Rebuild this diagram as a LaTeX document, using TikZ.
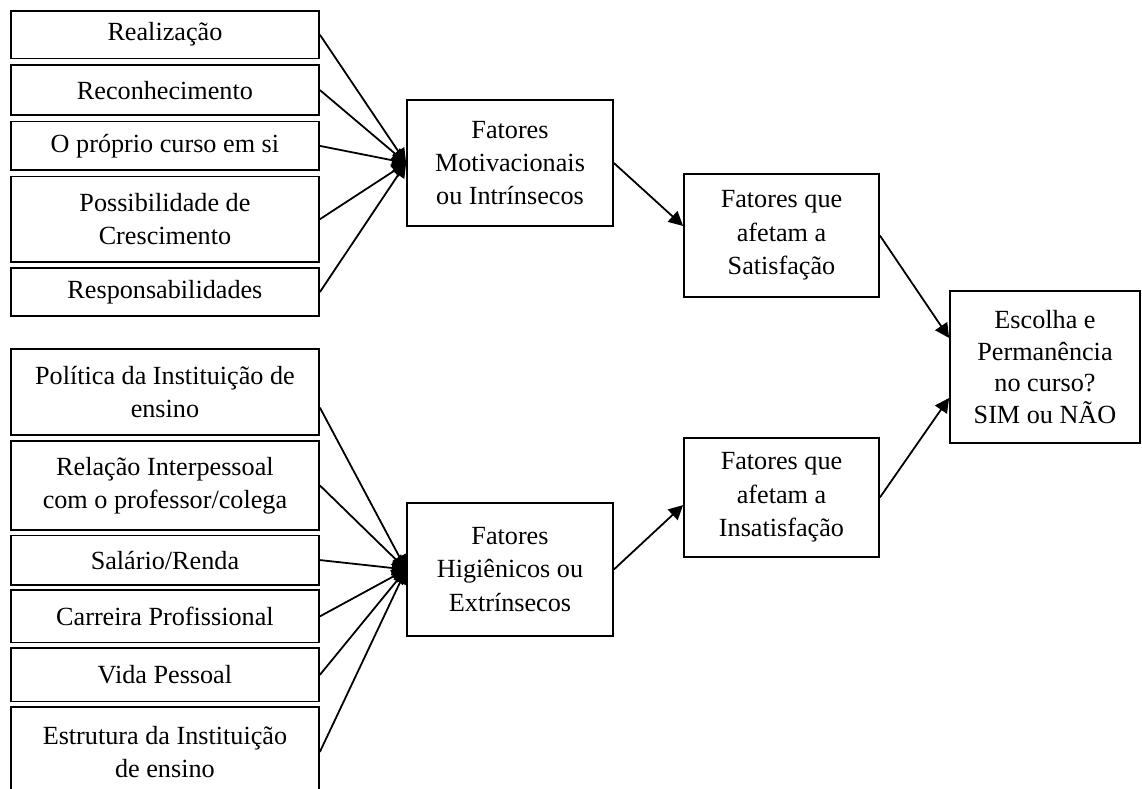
\documentclass[tikz,border=0pt]{standalone}
\usepackage{fontspec}
\setmainfont{Liberation Serif}
\usetikzlibrary{positioning, arrows.meta}

\begin{document}
\begin{tikzpicture}[x=0.42pt, y=-0.42pt, line width=0.75pt,
     node distance = 1.9pt and 1.9pt,
 every node/.style = {font=\fontsize{11}{14}\selectfont},
       item/.style = {rectangle, draw, minimum width=129.4pt,
                     minimum height=#1, align=center, inner sep=1pt},
     item/.default = 20.4pt,
   box/.style 2 args = {rectangle, draw, minimum width=#1,
                     minimum height=#2, align=center, inner sep=1pt},
                >= {Triangle[length=6pt, width=6pt]}
                        ]
\useasboundingbox (0,0) rectangle (1142,789);
% fatores motivacionais
\node (real) [item=20pt, anchor=north west] at (10,10) {Realização};
\node (recon) [item=21.2pt, below=of real] {Reconhecimento};
\node (curso) [item, below=of recon] {O próprio curso em si};
\node (cresc) [item=35.9pt, below=of curso] {Possibilidade de\\Crescimento};
\node (resp) [item=20pt, below=of cresc] {Responsabilidades};
% fatores higienicos
\node (pol) [item=36.3pt, anchor=north west] at (10,348) {Política da Instituição de\\ensino};
\node (rel) [item=37.4pt, below=1.6pt of pol] {Relação Interpessoal\\com o professor/colega};
\node (sal) [item=20.6pt, below=1.6pt of rel] {Salário/Renda};
\node (car) [item=22pt, below=1.6pt of sal] {Carreira Profissional};
\node (vida) [item=22.4pt, below=1.6pt of car] {Vida Pessoal};
\node (est) [item=37.6pt, below=1.6pt of vida] {Estrutura da Instituição\\de ensino};
% caixas do meio
\node (mot) [box={86.5pt}{52.9pt}] at (510,163) {Fatores\\Motivacionais\\ou Intrínsecos};
\node (hig) [box={86.5pt}{55.9pt}] at (510,569.5) {Fatores\\Higiênicos ou\\Extrínsecos};
\node (sat) [box={81.9pt}{51.7pt}] at (781.5,235.5) {Fatores que\\afetam a\\Satisfação};
\node (insat) [box={81.9pt}{50pt}] at (781.5,497.5) {Fatores que\\afetam a\\Insatisfação};
\node (esc) [box={79.8pt}{63.8pt}, font=\fontsize{11}{13.3}\selectfont] at (1045,367) {Escolha e\\Permanência\\no curso?\\SIM ou NÃO};
% setas
\foreach \n in {real,recon,curso,cresc,resp}
  \draw[->] (\n.east) -- (mot.west);
\draw[->] ([yshift=-6.5pt]pol.east) -- (hig.west);
\foreach \n in {rel,sal,car,vida,est}
  \draw[->] (\n.east) -- (hig.west);
\draw[->] (mot.east) -- ([yshift=4pt]sat.west);
\draw[->] (hig.east) -- ([yshift=-3.2pt]insat.west);
\draw[->] (sat.east) -- ([yshift=12.2pt]esc.west);
\draw[->] (insat.east) -- ([yshift=-13pt]esc.west);
\end{tikzpicture}
\end{document}
